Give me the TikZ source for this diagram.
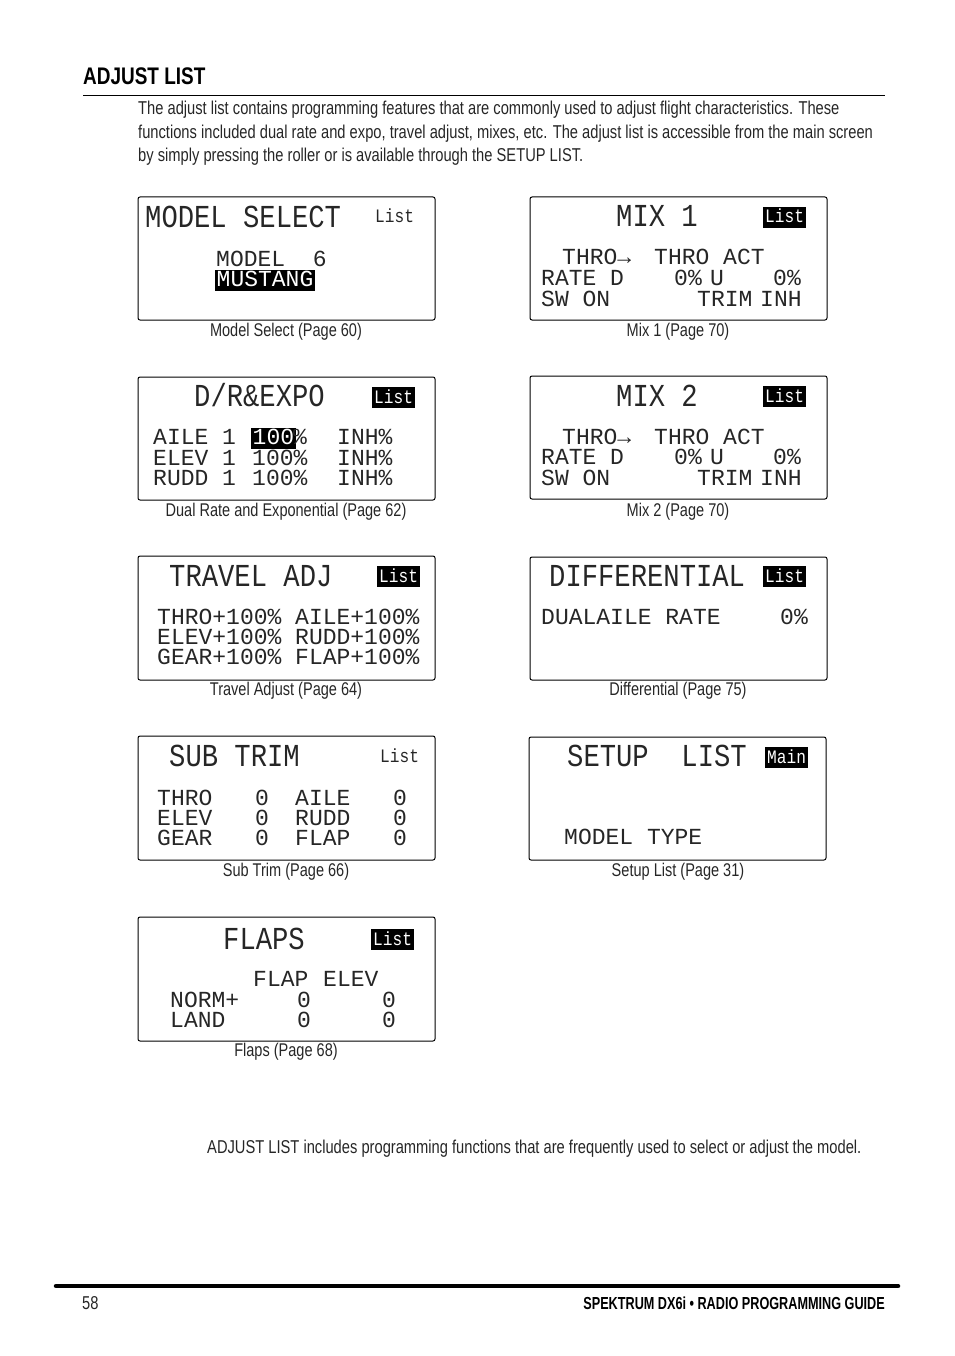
\documentclass[tikz,border=0pt]{standalone}
\usepackage{fontspec}
\setmainfont[FakeStretch=0.79]{Liberation Sans}
\newfontfamily\footfont[FakeStretch=0.728]{Liberation Sans}
\newfontfamily\lcdfont{Liberation Mono}
\newfontfamily\lcdtall[FakeStretch=0.85]{Liberation Mono}
\begin{document}
\begin{tikzpicture}[x=1pt,y=-1pt]
\tikzstyle{screen}=[draw=black,line width=1pt,rounded corners=2pt]
\tikzstyle{body}=[anchor=base west,inner sep=0pt,text=black!85,font=\fontsize{18.6}{20}\selectfont]
\tikzstyle{caption}=[anchor=base,inner sep=0pt,text=black!85,font=\fontsize{18.4}{20}\selectfont]
\tikzstyle{heading}=[anchor=base west,inner sep=0pt,font=\bfseries\fontsize{24}{24}\selectfont]
\tikzstyle{footer}=[anchor=base east,inner sep=0pt,font=\footfont\bfseries\fontsize{17.4}{18}\selectfont]
\tikzstyle{title}=[anchor=base west,inner sep=0pt,text=black!85,font=\lcdtall\fontsize{32}{32}\selectfont]
\tikzstyle{lcd}=[anchor=base west,inner sep=0pt,yshift=2pt,text=black!85,font=\lcdfont\fontsize{23}{23}\selectfont]
\tikzstyle{tag}=[anchor=base west,inner sep=0pt,text=black!85,font=\lcdtall\fontsize{19}{19}\selectfont]
\tikzstyle{tagbox}=[tag,fill=black,text=white,inner xsep=2pt,text height=16pt,text depth=5pt]
\tikzstyle{lcdbox}=[lcd,fill=black,text=white,inner xsep=1.5pt,text height=16pt,text depth=5pt]
\useasboundingbox (0,0) rectangle (954,1356);
% page head
\node[heading] (H_0) at (83,85) {ADJUST LIST};
\coordinate (R_a) at (83,95);
\coordinate (R_b) at (885,95);
\draw[line width=.8pt] (R_a) -- (R_b);
\node[body] (B_1) at (138,115) {The adjust list contains programming features that are commonly used to adjust flight characteristics. These};
\node[body] (B_2) at (138,139) {functions included dual rate and expo, travel adjust, mixes, etc. The adjust list is accessible from the main screen};
\node[body] (B_3) at (138,162) {by simply pressing the roller or is available through the SETUP LIST.};
% model select
\draw[screen] (138,197) rectangle (435,320);
\node[title] (A_t) at (145,228) {MODEL SELECT};
\node[tag] (A_l) at (375,223) {List};
\node[lcd] (A_1) at (216,268) {MODEL~~6};
\node[lcdbox] (A_2) at (215,288) {MUSTANG};
\node[caption] (A_c) at (286,336) {Model Select (Page 60)};
% mix 1
\draw[screen] (530,197) rectangle (827,320);
\node[title] (B_t) at (616,227) {MIX 1};
\node[tagbox] (B_l) at (763,223) {List};
\node[lcd] (B_1) at (562,267) {THRO→};
\node[lcd] (B_1b) at (654,267) {THRO ACT};
\node[lcd] (B_2a) at (541,287) {RATE D};
\node[lcd] (B_2b) at (674,287) {0\%};
\node[lcd] (B_2c) at (710,287) {U};
\node[lcd] (B_2d) at (773,287) {0\%};
\node[lcd] (B_3a) at (541,308) {SW ON};
\node[lcd] (B_3b) at (697,308) {TRIM};
\node[lcd] (B_3c) at (760,308) {INH};
\node[caption] (B_c) at (678,336) {Mix 1 (Page 70)};
% dual rate
\draw[screen] (138,377) rectangle (435,500);
\node[title] (C_t) at (194,406) {D/R\&EXPO};
\node[tagbox] (C_l) at (372,403) {List};
\node[lcd] (C_1a) at (153,446) {AILE 1};
\node[lcdbox] (C_1b) at (251,446) {100};
\node[lcd] (C_1c) at (293,446) {\%};
\node[lcd] (C_1d) at (337,446) {INH\%};
\node[lcd] (C_2a) at (153,467) {ELEV 1};
\node[lcd] (C_2b) at (252,467) {100\%};
\node[lcd] (C_2c) at (337,467) {INH\%};
\node[lcd] (C_3a) at (153,487) {RUDD 1};
\node[lcd] (C_3b) at (252,487) {100\%};
\node[lcd] (C_3c) at (337,487) {INH\%};
\node[caption] (C_c) at (286,516) {Dual Rate and Exponential (Page 62)};
% mix 2
\draw[screen] (530,376) rectangle (827,499);
\node[title] (D_t) at (616,406) {MIX 2};
\node[tagbox] (D_l) at (763,402) {List};
\node[lcd] (D_1) at (562,446) {THRO→};
\node[lcd] (D_1b) at (654,446) {THRO ACT};
\node[lcd] (D_2a) at (541,466) {RATE D};
\node[lcd] (D_2b) at (674,466) {0\%};
\node[lcd] (D_2c) at (710,466) {U};
\node[lcd] (D_2d) at (773,466) {0\%};
\node[lcd] (D_3a) at (541,487) {SW ON};
\node[lcd] (D_3b) at (697,487) {TRIM};
\node[lcd] (D_3c) at (760,487) {INH};
\node[caption] (D_c) at (678,516) {Mix 2 (Page 70)};
% travel adjust
\draw[screen] (138,556) rectangle (435,680);
\node[title] (E_t) at (169,586) {TRAVEL ADJ};
\node[tagbox] (E_l) at (377,582) {List};
\node[lcd] (E_1) at (157,626) {THRO+100\% AILE+100\%};
\node[lcd] (E_2) at (157,646) {ELEV+100\% RUDD+100\%};
\node[lcd] (E_3) at (157,666) {GEAR+100\% FLAP+100\%};
\node[caption] (E_c) at (286,695) {Travel Adjust (Page 64)};
% differential
\draw[screen] (530,557) rectangle (827,680);
\node[title] (F_t) at (549,586) {DIFFERENTIAL};
\node[tagbox] (F_l) at (763,582) {List};
\node[lcd] (F_1) at (541,626) {DUALAILE RATE};
\node[lcd] (F_2) at (780,626) {0\%};
\node[caption] (F_c) at (678,695) {Differential (Page 75)};
% sub trim
\draw[screen] (138,736) rectangle (435,860);
\node[title] (G_t) at (169,766) {SUB TRIM};
\node[tag] (G_l) at (380,762) {List};
\node[lcd] (G_1a) at (157,807) {THRO};
\node[lcd] (G_1b) at (255,807) {0};
\node[lcd] (G_1c) at (295,807) {AILE};
\node[lcd] (G_1d) at (393,807) {0};
\node[lcd] (G_2a) at (157,827) {ELEV};
\node[lcd] (G_2b) at (255,827) {0};
\node[lcd] (G_2c) at (295,827) {RUDD};
\node[lcd] (G_2d) at (393,827) {0};
\node[lcd] (G_3a) at (157,847) {GEAR};
\node[lcd] (G_3b) at (255,847) {0};
\node[lcd] (G_3c) at (295,847) {FLAP};
\node[lcd] (G_3d) at (393,847) {0};
\node[caption] (G_c) at (286,876) {Sub Trim (Page 66)};
% setup list
\draw[screen] (529,737) rectangle (826,860);
\node[title] (K_t) at (567,766) {SETUP~~LIST};
\node[tagbox] (K_l) at (765,763) {Main};
\node[lcd] (K_1) at (564,846) {MODEL~TYPE};
\node[caption] (K_c) at (678,876) {Setup List (Page 31)};
% flaps
\draw[screen] (138,917) rectangle (435,1041);
\node[title] (L_t) at (223,949) {FLAPS};
\node[tagbox] (L_l) at (371,945) {List};
\node[lcd] (L_1a) at (253,988) {FLAP};
\node[lcd] (L_1b) at (323,988) {ELEV};
\node[lcd] (L_2a) at (170,1009) {NORM+};
\node[lcd] (L_2b) at (297,1009) {0};
\node[lcd] (L_2c) at (382,1009) {0};
\node[lcd] (L_3a) at (170,1029) {LAND};
\node[lcd] (L_3b) at (297,1029) {0};
\node[lcd] (L_3c) at (382,1029) {0};
\node[caption] (L_c) at (286,1056) {Flaps (Page 68)};
% note and foot
\node[body] (N_0) at (207,1153) {ADJUST LIST includes programming functions that are frequently used to select or adjust the model.};
\coordinate (R_c) at (56,1286);
\coordinate (R_d) at (898,1286);
\draw[line width=4.5pt,line cap=round] (R_c) -- (R_d);
\node[body] (P_0) at (82,1309) {58};
\node[footer] (P_1) at (885,1309) {SPEKTRUM DX6i • RADIO PROGRAMMING GUIDE};
\end{tikzpicture}
\end{document}
